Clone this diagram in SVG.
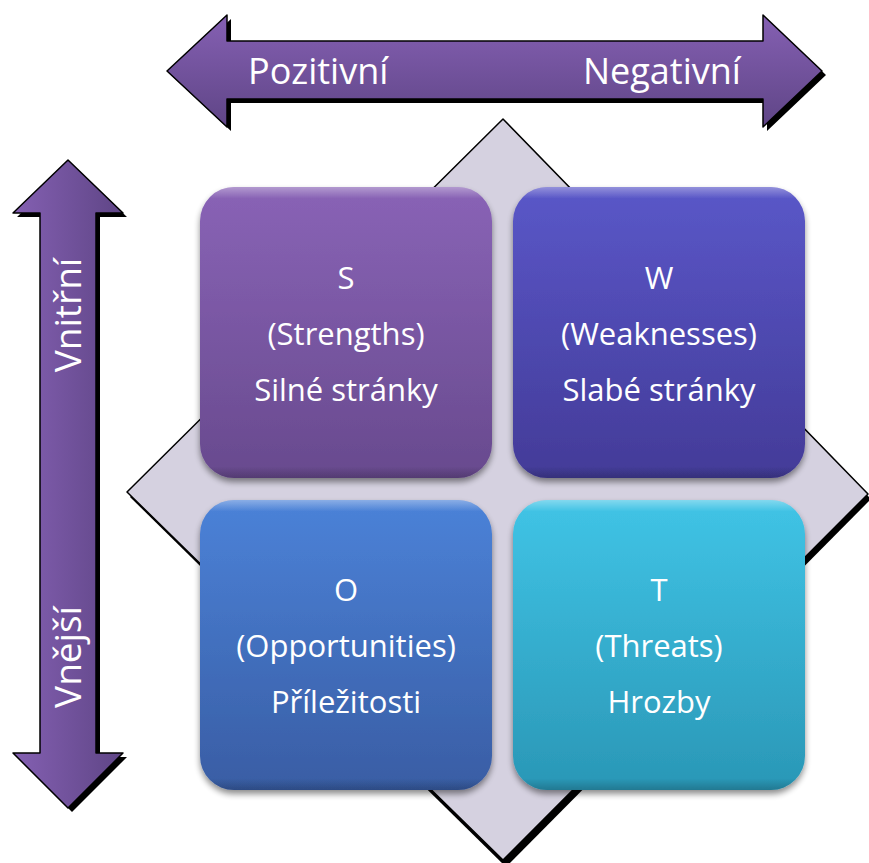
<svg xmlns="http://www.w3.org/2000/svg" width="869" height="863" viewBox="0 0 869 863">
  <defs>
    <linearGradient id="gArrowH" x1="0" y1="0" x2="0" y2="1">
      <stop offset="0" stop-color="#8560b3"/>
      <stop offset="1" stop-color="#5f4586"/>
    </linearGradient>
    <linearGradient id="gArrowV" x1="0" y1="0" x2="1" y2="0">
      <stop offset="0" stop-color="#8460b2"/>
      <stop offset="1" stop-color="#5f4586"/>
    </linearGradient>
    <linearGradient id="gS" x1="0" y1="0" x2="0" y2="1">
      <stop offset="0" stop-color="#8963b6"/>
      <stop offset="1" stop-color="#684a8e"/>
    </linearGradient>
    <linearGradient id="gW" x1="0" y1="0" x2="0" y2="1">
      <stop offset="0" stop-color="#5a57c8"/>
      <stop offset="1" stop-color="#433b98"/>
    </linearGradient>
    <linearGradient id="gO" x1="0" y1="0" x2="0" y2="1">
      <stop offset="0" stop-color="#4b82d8"/>
      <stop offset="1" stop-color="#395da4"/>
    </linearGradient>
    <linearGradient id="gT" x1="0" y1="0" x2="0" y2="1">
      <stop offset="0" stop-color="#40c4e6"/>
      <stop offset="1" stop-color="#2a97b6"/>
    </linearGradient>
    <linearGradient id="gShine" x1="0" y1="0" x2="0" y2="1">
      <stop offset="0" stop-color="#ffffff" stop-opacity="0.35"/>
      <stop offset="0.04" stop-color="#ffffff" stop-opacity="0"/>
      <stop offset="0.96" stop-color="#000000" stop-opacity="0"/>
      <stop offset="1" stop-color="#000000" stop-opacity="0.2"/>
    </linearGradient>
    <filter id="boxShadow" x="-10%" y="-10%" width="120%" height="125%">
      <feGaussianBlur in="SourceAlpha" stdDeviation="3"/>
      <feOffset dx="0" dy="4" result="b"/>
      <feComponentTransfer><feFuncA type="linear" slope="0.45"/></feComponentTransfer>
      <feMerge><feMergeNode/><feMergeNode in="SourceGraphic"/></feMerge>
    </filter>
  </defs>
  <style>
    .shadow { fill: #000000; }
    .edge { stroke: #000000; stroke-width: 1.5; stroke-linejoin: round; }
    .arrowText { font-family: "Open Sans", "Noto Sans", sans-serif; font-size: 36px; fill: #ffffff; }
    .vText { font-family: "Open Sans", "Noto Sans", sans-serif; font-size: 37px; fill: #ffffff; text-anchor: middle; }
    .boxText { font-family: "Open Sans", "Noto Sans", sans-serif; font-size: 31px; fill: #ffffff; text-anchor: middle; }
    .shine { fill: url(#gShine); }
  </style>

  <g id="diamond">
    <polygon class="shadow" points="506,124 871,499 506,867 130,497"/>
    <polygon points="503,119 868,494 503,860 127,492" fill="#d5d1e0" class="edge"/>
  </g>

  <g id="arrow-horizontal">
    <path class="shadow" d="M171,75 L231,19 L231,45 L767,45 L767,19 L826,75 L767,131 L767,103 L231,103 L231,131 Z"/>
    <path d="M167,71 L227,15 L227,41 L763,41 L763,15 L822,71 L763,127 L763,99 L227,99 L227,127 Z" fill="url(#gArrowH)" class="edge"/>
    <text class="arrowText" x="248" y="84">Pozitivní</text>
    <text class="arrowText" x="583" y="84">Negativní</text>
  </g>

  <g id="arrow-vertical">
    <path class="shadow" d="M72,164 L127,217 L100,217 L100,757 L127,757 L72,812 L17,757 L44,757 L44,217 L17,217 Z"/>
    <path d="M68,160 L123,213 L96,213 L96,753 L123,753 L68,808 L13,753 L40,753 L40,213 L13,213 Z" fill="url(#gArrowV)" class="edge"/>
    <text class="vText" transform="translate(81,315) rotate(-90)">Vnitřní</text>
    <text class="vText" transform="translate(81,657) rotate(-90)">Vnější</text>
  </g>

  <g id="node-S">
    <rect x="200" y="187" width="292" height="291" rx="34" fill="url(#gS)" filter="url(#boxShadow)"/>
    <rect x="200" y="187" width="292" height="291" rx="34" class="shine"/>
    <text class="boxText" x="346" y="289">S</text>
    <text class="boxText" x="346" y="345">(Strengths)</text>
    <text class="boxText" x="346" y="401">Silné stránky</text>
  </g>

  <g id="node-W">
    <rect x="513" y="187" width="292" height="291" rx="34" fill="url(#gW)" filter="url(#boxShadow)"/>
    <rect x="513" y="187" width="292" height="291" rx="34" class="shine"/>
    <text class="boxText" x="659" y="289">W</text>
    <text class="boxText" x="659" y="345">(Weaknesses)</text>
    <text class="boxText" x="659" y="401">Slabé stránky</text>
  </g>

  <g id="node-O">
    <rect x="200" y="500" width="292" height="290" rx="34" fill="url(#gO)" filter="url(#boxShadow)"/>
    <rect x="200" y="500" width="292" height="290" rx="34" class="shine"/>
    <text class="boxText" x="346" y="601">O</text>
    <text class="boxText" x="346" y="657">(Opportunities)</text>
    <text class="boxText" x="346" y="713">Příležitosti</text>
  </g>

  <g id="node-T">
    <rect x="513" y="500" width="292" height="290" rx="34" fill="url(#gT)" filter="url(#boxShadow)"/>
    <rect x="513" y="500" width="292" height="290" rx="34" class="shine"/>
    <text class="boxText" x="659" y="601">T</text>
    <text class="boxText" x="659" y="657">(Threats)</text>
    <text class="boxText" x="659" y="713">Hrozby</text>
  </g>

  <g id="connectors"></g>
</svg>
